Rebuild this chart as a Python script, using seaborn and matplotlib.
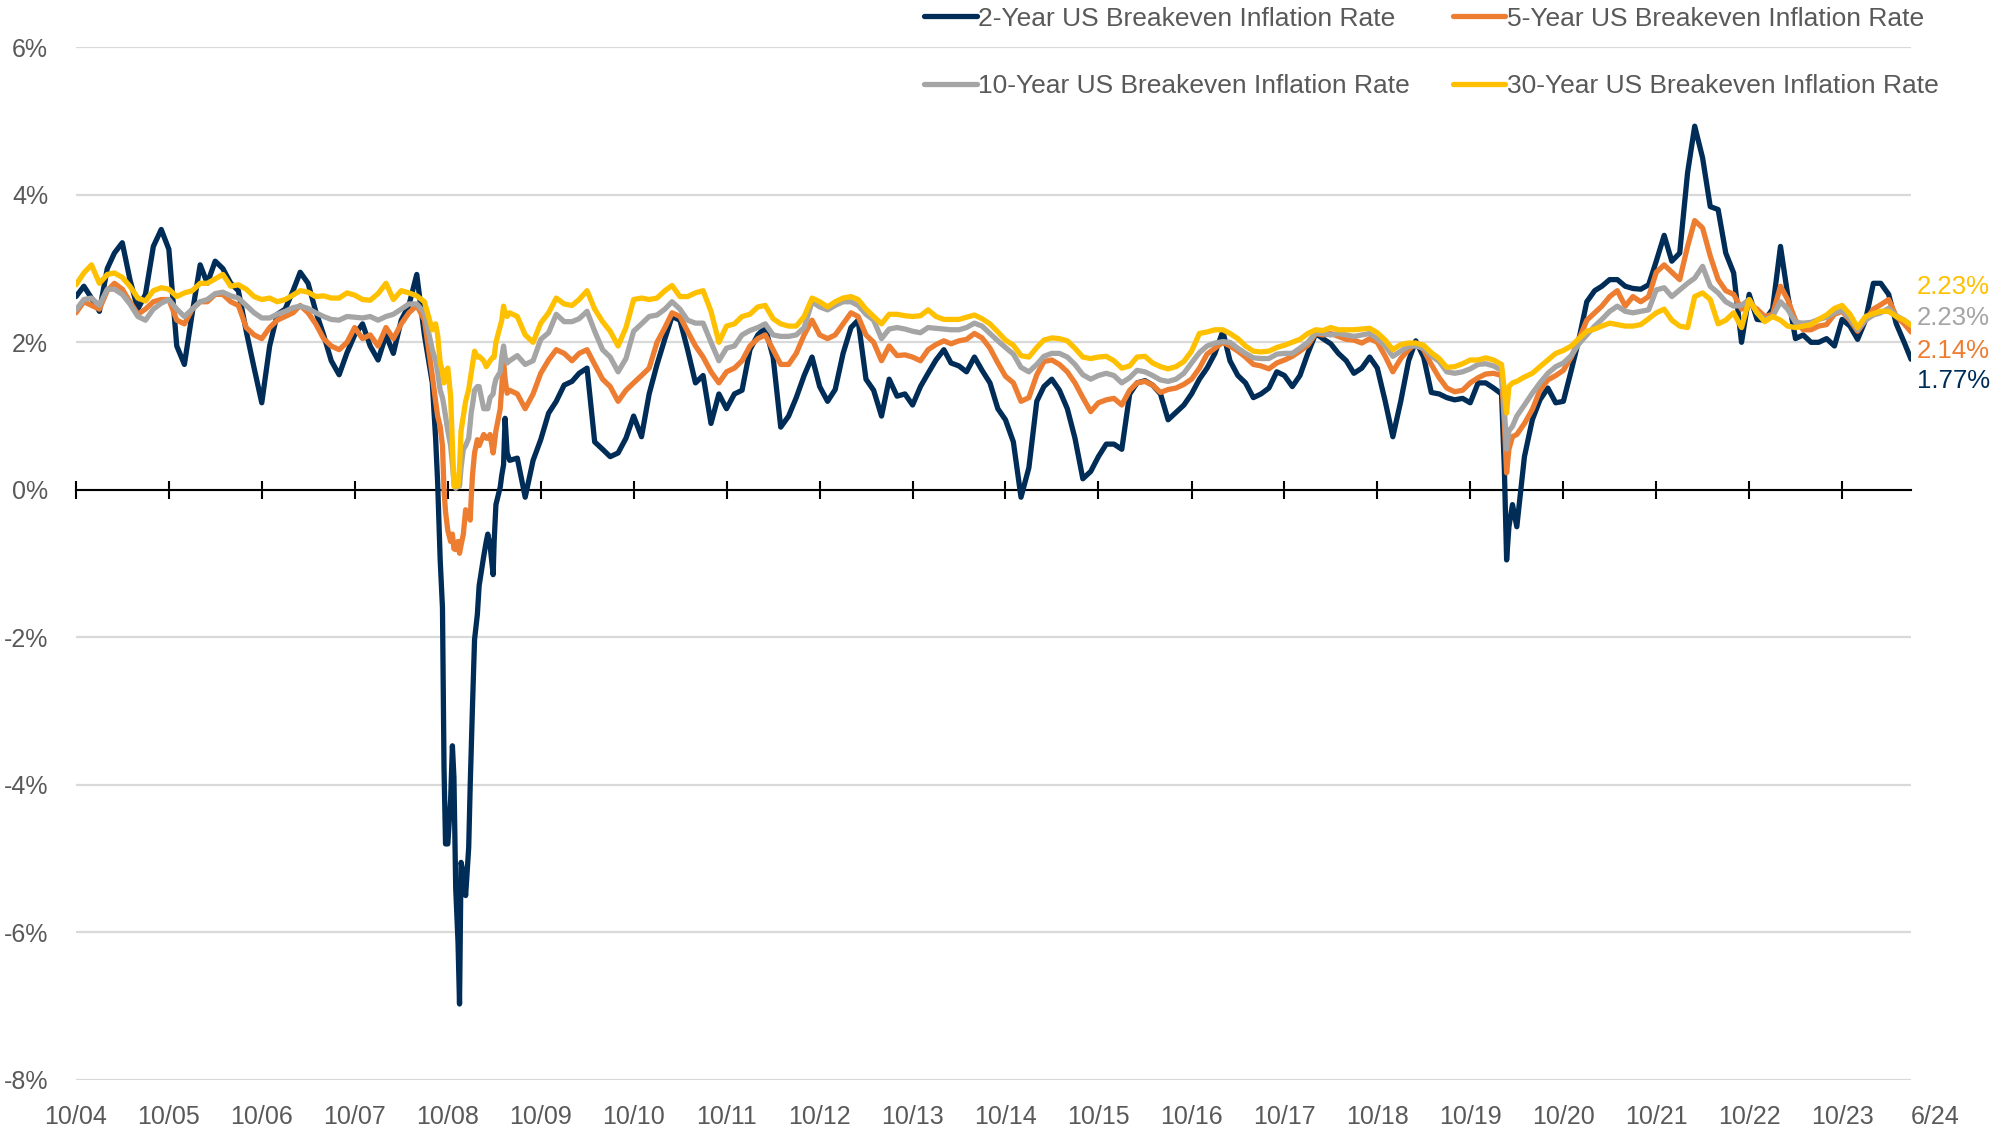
import pandas as pd
import matplotlib
matplotlib.use("Agg")
import matplotlib.pyplot as plt
import matplotlib.dates as mdates
from matplotlib.lines import Line2D
from matplotlib.ticker import FuncFormatter
from matplotlib.transforms import blended_transform_factory
from matplotlib import font_manager
import seaborn as sns

# Monthly readings (first of each month), Oct 2004 .. Jun 2024, in %
first_month = "2004-10-01"

be_2y = [2.62, 2.76, 2.60, 2.42, 3.00, 3.21, 3.35, 2.85, 2.45, 2.65, 3.30, 3.53,
         3.26, 1.95, 1.70, 2.40, 3.05, 2.80, 3.10, 3.00, 2.80, 2.70, 2.15, 1.65,
         1.18, 1.95, 2.38, 2.45, 2.70, 2.95, 2.80, 2.42, 2.10, 1.75, 1.56, 1.86,
         2.10, 2.25, 1.95, 1.76, 2.10, 1.85, 2.30, 2.50, 2.92, 2.10, 1.45, -0.95,
         -4.80, -5.40, -5.20, -3.50, -1.30, -0.70, -0.70, 0.20, 0.40, 0.43, -0.10, 0.40,
         0.68, 1.04, 1.20, 1.42, 1.47, 1.58, 1.65, 0.65, 0.55, 0.45, 0.50, 0.70,
         1.00, 0.72, 1.30, 1.70, 2.05, 2.35, 2.30, 1.90, 1.45, 1.55, 0.90, 1.30,
         1.10, 1.30, 1.35, 1.90, 2.10, 2.20, 1.80, 0.85, 1.00, 1.25, 1.55, 1.80,
         1.40, 1.20, 1.36, 1.85, 2.20, 2.30, 1.50, 1.35, 1.00, 1.50, 1.27, 1.30,
         1.15, 1.40, 1.58, 1.76, 1.90, 1.72, 1.68, 1.60, 1.80, 1.62, 1.45, 1.10,
         0.95, 0.65, -0.10, 0.30, 1.20, 1.40, 1.50, 1.35, 1.10, 0.70, 0.15, 0.25,
         0.45, 0.62, 0.62, 0.55, 1.30, 1.45, 1.48, 1.42, 1.30, 0.95, 1.05, 1.15,
         1.30, 1.50, 1.65, 1.85, 2.15, 1.75, 1.55, 1.45, 1.25, 1.30, 1.38, 1.60,
         1.55, 1.40, 1.55, 1.85, 2.12, 2.05, 1.98, 1.85, 1.75, 1.58, 1.65, 1.80,
         1.65, 1.20, 0.72, 1.20, 1.75, 2.02, 1.80, 1.32, 1.30, 1.25, 1.22, 1.24,
         1.18, 1.45, 1.45, 1.38, 1.30, -0.50, -0.50, 0.45, 0.95, 1.22, 1.38, 1.18,
         1.20, 1.62, 2.04, 2.55, 2.70, 2.76, 2.85, 2.85, 2.76, 2.73, 2.72, 2.78,
         3.10, 3.45, 3.10, 3.21, 4.30, 4.93, 4.50, 3.84, 3.80, 3.21, 2.94, 2.00,
         2.65, 2.31, 2.30, 2.45, 3.30, 2.65, 2.05, 2.10, 2.00, 2.00, 2.05, 1.95,
         2.31, 2.22, 2.04, 2.30, 2.80, 2.80, 2.65, 2.25, 2.00]

be_5y = [2.40, 2.55, 2.50, 2.45, 2.70, 2.80, 2.72, 2.55, 2.38, 2.45, 2.55, 2.58,
         2.58, 2.30, 2.25, 2.45, 2.55, 2.55, 2.65, 2.65, 2.55, 2.50, 2.20, 2.10,
         2.05, 2.20, 2.30, 2.35, 2.40, 2.50, 2.40, 2.25, 2.05, 1.95, 1.90, 2.00,
         2.20, 2.05, 2.10, 1.95, 2.20, 2.05, 2.25, 2.40, 2.50, 2.30, 1.55, 0.86,
         -0.55, -0.81, -0.60, -0.10, 0.60, 0.70, 0.60, 1.40, 1.35, 1.30, 1.10, 1.30,
         1.58, 1.76, 1.90, 1.85, 1.75, 1.85, 1.90, 1.70, 1.50, 1.40, 1.20, 1.35,
         1.45, 1.55, 1.65, 2.00, 2.20, 2.40, 2.35, 2.15, 1.95, 1.80, 1.60, 1.45,
         1.60, 1.65, 1.75, 1.95, 2.05, 2.10, 1.90, 1.70, 1.70, 1.85, 2.10, 2.30,
         2.10, 2.05, 2.10, 2.25, 2.40, 2.35, 2.10, 2.00, 1.75, 1.95, 1.82, 1.83,
         1.80, 1.75, 1.90, 1.97, 2.02, 1.98, 2.02, 2.04, 2.12, 2.06, 1.92, 1.72,
         1.54, 1.45, 1.20, 1.25, 1.56, 1.74, 1.76, 1.70, 1.60, 1.45, 1.25, 1.06,
         1.18, 1.22, 1.24, 1.15, 1.35, 1.45, 1.47, 1.42, 1.32, 1.36, 1.38, 1.43,
         1.50, 1.65, 1.84, 1.92, 2.00, 1.95, 1.88, 1.80, 1.70, 1.68, 1.64, 1.72,
         1.76, 1.81, 1.88, 1.96, 2.12, 2.10, 2.12, 2.08, 2.04, 2.03, 1.99, 2.05,
         2.00, 1.81, 1.60, 1.78, 1.90, 1.99, 1.90, 1.70, 1.52, 1.38, 1.33, 1.35,
         1.45, 1.52, 1.57, 1.58, 1.55, 0.55, 0.75, 0.90, 1.09, 1.35, 1.49, 1.55,
         1.62, 1.80, 2.04, 2.30, 2.40, 2.49, 2.62, 2.70, 2.49, 2.62, 2.55, 2.62,
         2.95, 3.05, 2.95, 2.85, 3.30, 3.65, 3.55, 3.17, 2.85, 2.70, 2.65, 2.45,
         2.52, 2.45, 2.35, 2.38, 2.76, 2.58, 2.30, 2.17, 2.17, 2.22, 2.24, 2.38,
         2.42, 2.30, 2.15, 2.30, 2.45, 2.51, 2.58, 2.35, 2.25]

be_10y = [2.44, 2.58, 2.60, 2.50, 2.72, 2.72, 2.65, 2.52, 2.35, 2.30, 2.45, 2.53,
          2.58, 2.45, 2.35, 2.45, 2.55, 2.58, 2.66, 2.68, 2.63, 2.60, 2.50, 2.40,
          2.33, 2.33, 2.38, 2.42, 2.47, 2.49, 2.46, 2.40, 2.35, 2.31, 2.30, 2.35,
          2.34, 2.33, 2.35, 2.30, 2.35, 2.38, 2.45, 2.52, 2.52, 2.40, 1.90, 1.35,
          0.80, 0.02, 0.55, 1.05, 1.40, 1.10, 1.40, 1.80, 1.75, 1.82, 1.70, 1.75,
          2.04, 2.13, 2.38, 2.28, 2.28, 2.32, 2.42, 2.15, 1.90, 1.80, 1.60, 1.78,
          2.15, 2.25, 2.35, 2.37, 2.45, 2.55, 2.45, 2.30, 2.26, 2.26, 2.00, 1.75,
          1.92, 1.95, 2.10, 2.16, 2.20, 2.25, 2.10, 2.08, 2.08, 2.10, 2.20, 2.55,
          2.48, 2.44, 2.50, 2.55, 2.55, 2.50, 2.38, 2.30, 2.05, 2.18, 2.20, 2.18,
          2.15, 2.13, 2.20, 2.19, 2.18, 2.17, 2.17, 2.20, 2.26, 2.22, 2.12, 2.02,
          1.93, 1.84, 1.66, 1.60, 1.70, 1.81, 1.85, 1.85, 1.80, 1.70, 1.56, 1.50,
          1.55, 1.58, 1.55, 1.45, 1.52, 1.62, 1.60, 1.55, 1.49, 1.47, 1.50, 1.58,
          1.72, 1.86, 1.95, 1.99, 2.01, 2.00, 1.92, 1.85, 1.79, 1.78, 1.78, 1.84,
          1.85, 1.85, 1.92, 2.00, 2.13, 2.12, 2.10, 2.12, 2.10, 2.08, 2.10, 2.12,
          2.05, 1.95, 1.81, 1.88, 1.95, 1.95, 1.92, 1.82, 1.74, 1.60, 1.58, 1.60,
          1.64, 1.70, 1.71, 1.68, 1.62, 0.80, 1.00, 1.15, 1.31, 1.45, 1.58, 1.67,
          1.72, 1.82, 1.98, 2.10, 2.22, 2.31, 2.42, 2.49, 2.42, 2.40, 2.42, 2.44,
          2.71, 2.74, 2.62, 2.71, 2.80, 2.87, 3.03, 2.76, 2.67, 2.55, 2.49, 2.50,
          2.58, 2.40, 2.31, 2.35, 2.55, 2.45, 2.27, 2.26, 2.27, 2.31, 2.34, 2.40,
          2.44, 2.32, 2.17, 2.30, 2.37, 2.40, 2.46, 2.36, 2.30]

be_30y = [2.78, 2.94, 3.05, 2.80, 2.92, 2.94, 2.88, 2.76, 2.60, 2.56, 2.70, 2.74,
          2.72, 2.62, 2.67, 2.70, 2.80, 2.80, 2.86, 2.92, 2.76, 2.78, 2.72, 2.62,
          2.58, 2.60, 2.55, 2.58, 2.64, 2.70, 2.68, 2.62, 2.63, 2.60, 2.60, 2.67,
          2.64, 2.58, 2.57, 2.66, 2.80, 2.58, 2.70, 2.67, 2.63, 2.55, 2.17, 1.72,
          1.65, 0.05, 1.00, 1.60, 1.81, 1.67, 1.80, 2.30, 2.40, 2.35, 2.10, 2.00,
          2.26, 2.40, 2.60, 2.52, 2.50, 2.58, 2.70, 2.45, 2.28, 2.15, 1.95, 2.20,
          2.58, 2.60, 2.58, 2.60, 2.70, 2.77, 2.62, 2.62, 2.67, 2.70, 2.42, 2.00,
          2.22, 2.25, 2.35, 2.38, 2.48, 2.50, 2.32, 2.25, 2.22, 2.22, 2.35, 2.60,
          2.55, 2.48, 2.55, 2.60, 2.62, 2.58, 2.45, 2.35, 2.25, 2.38, 2.38, 2.36,
          2.35, 2.36, 2.44, 2.35, 2.31, 2.31, 2.31, 2.34, 2.37, 2.32, 2.25, 2.14,
          2.03, 1.96, 1.82, 1.80, 1.93, 2.03, 2.06, 2.05, 2.02, 1.92, 1.80, 1.78,
          1.80, 1.81, 1.75, 1.65, 1.68, 1.80, 1.81, 1.72, 1.67, 1.64, 1.67, 1.74,
          1.88, 2.12, 2.14, 2.17, 2.17, 2.12, 2.05, 1.95, 1.88, 1.87, 1.88, 1.93,
          1.96, 2.00, 2.04, 2.12, 2.17, 2.16, 2.20, 2.17, 2.17, 2.17, 2.18, 2.19,
          2.13, 2.03, 1.90, 1.97, 1.99, 1.99, 1.96, 1.86, 1.78, 1.66, 1.67, 1.71,
          1.76, 1.76, 1.79, 1.76, 1.70, 1.40, 1.47, 1.53, 1.58, 1.67, 1.76, 1.85,
          1.89, 1.95, 2.05, 2.15, 2.18, 2.22, 2.26, 2.24, 2.22, 2.22, 2.24, 2.32,
          2.40, 2.45, 2.30, 2.22, 2.20, 2.62, 2.67, 2.58, 2.25, 2.30, 2.40, 2.20,
          2.58, 2.40, 2.28, 2.35, 2.30, 2.22, 2.20, 2.22, 2.24, 2.31, 2.37, 2.46,
          2.50, 2.38, 2.20, 2.35, 2.39, 2.42, 2.42, 2.35, 2.30]

# extra readings where the lines move fast (2008 crash, Covid) and the last print
extra_dates = ["2008-08-14", "2008-08-22", "2008-09-10", "2008-09-16", "2008-09-22",
               "2008-10-12", "2008-10-19", "2008-10-25", "2008-11-10", "2008-11-16",
               "2008-11-22", "2008-12-10", "2008-12-22", "2008-12-28", "2009-01-06",
               "2009-01-14", "2009-01-25", "2009-02-19", "2009-03-07", "2009-03-16",
               "2009-03-28", "2009-04-08", "2009-04-25", "2009-05-08", "2009-05-14",
               "2009-05-22", "2020-02-12", "2020-02-21", "2020-03-15", "2024-06-28"]
extra_2y = [0.70, 0.10, -1.60, -3.76, -4.80, -4.20, -3.47, -3.90, -6.13, -6.97,
            -5.05, -5.50, -4.85, -4.00, -2.92, -2.03, -1.69, -0.90, -0.60, -0.75,
            -1.15, -0.20, 0.04, 0.34, 0.97, 0.50, 0.30, -0.95, -0.20, 1.77]
extra_5y = [1.20, 1.00, 0.60, 0.00, -0.30, -0.70, -0.60, -0.80, -0.70, -0.86,
            -0.75, -0.27, -0.35, -0.41, 0.20, 0.50, 0.68, 0.75, 0.70, 0.75,
            0.50, 0.80, 1.10, 1.76, 1.50, 1.31, 0.90, 0.23, 0.72, 2.14]
extra_10y = [1.75, 1.60, 1.25, 1.13, 1.00, 0.60, 0.35, 0.10, 0.05, 0.05,
             0.30, 0.60, 0.70, 0.90, 1.15, 1.35, 1.40, 1.10, 1.10, 1.25,
             1.30, 1.50, 1.60, 1.95, 1.80, 1.72, 1.10, 0.55, 0.86, 2.23]
extra_30y = [2.25, 2.10, 1.60, 1.45, 1.60, 1.27, 0.60, 0.05, 0.05, 0.30,
             0.80, 1.20, 1.36, 1.50, 1.70, 1.88, 1.80, 1.75, 1.70, 1.75,
             1.80, 2.00, 2.22, 2.49, 2.40, 2.35, 1.35, 1.04, 1.45, 2.23]

series_names = ["2-Year US Breakeven Inflation Rate", "5-Year US Breakeven Inflation Rate",
                "10-Year US Breakeven Inflation Rate", "30-Year US Breakeven Inflation Rate"]
colors = ["#002D57", "#ED7D31", "#A5A5A5", "#FFC000"]
end_labels = ["1.77%", "2.14%", "2.23%", "2.23%"]
end_label_y = [1.47, 1.88, 2.33, 2.75]
y_ticks = [-8, -6, -4, -2, 0, 2, 4, 6]

# build long table
monthly_dates = pd.date_range(first_month, periods=len(be_2y), freq="MS")
frames = []
for name, monthly, extra in zip(series_names, [be_2y, be_5y, be_10y, be_30y],
                                [extra_2y, extra_5y, extra_10y, extra_30y]):
    dates = list(monthly_dates) + list(pd.to_datetime(extra_dates))
    frames.append(pd.DataFrame({"date": dates, "value": monthly + extra, "series": name}))
df = pd.concat(frames, ignore_index=True).sort_values(["series", "date"])

sns.set_style("white")
installed = {f.name for f in font_manager.fontManager.ttflist}
if "Liberation Sans Narrow" in installed:
    plt.rcParams["font.family"] = ["Liberation Sans Narrow", "DejaVu Sans"]
    fs, fs_leg, fs_end = 21.6, 22.8, 22.4
else:
    plt.rcParams["font.family"] = ["Liberation Sans", "DejaVu Sans"]
    fs, fs_leg, fs_end = 18, 19, 18.6
text_color = "#595959"

fig = plt.figure(figsize=(19.94, 11.33), dpi=100)
ax = fig.add_axes([0.0381, 0.0468, 0.9203, 0.9115])

sns.lineplot(data=df, x="date", y="value", hue="series", hue_order=series_names,
             palette=colors, linewidth=3.8, estimator=None, sort=True,
             legend=False, ax=ax)

ax.set_ylim(-8, 6)
ax.set_xlim(pd.Timestamp("2004-10-01"), pd.Timestamp("2024-06-28"))
ax.set_xlabel("")
ax.set_ylabel("")

# y axis: light gridlines, % labels
ax.set_yticks(y_ticks)
ax.yaxis.set_major_formatter(FuncFormatter(lambda v, p: f"{v:.0f}%"))
ax.tick_params(axis="y", left=False, length=0, pad=20, labelsize=fs, labelcolor=text_color)
ax.yaxis.grid(True, color="#D9D9D9", linewidth=1.6)
ax.xaxis.grid(False)
ax.set_axisbelow(True)

for side in ["left", "right", "top"]:
    ax.spines[side].set_visible(False)
ax.spines["bottom"].set_position(("data", 0))
ax.spines["bottom"].set_color("black")
ax.spines["bottom"].set_linewidth(1.5)
ax.spines["bottom"].set_zorder(1.9)

# yearly ticks crossing the zero line, labels at the bottom
year_ticks = pd.date_range("2004-10-01", "2023-10-01", freq="12MS")
ax.set_xticks(year_ticks)
ax.tick_params(axis="x", bottom=True, direction="inout", length=13, width=1.5,
               color="black", labelbottom=False)
trans = blended_transform_factory(ax.transData, ax.transAxes)
for d in year_ticks:
    ax.text(mdates.date2num(d), -0.024, d.strftime("%m/%y"), transform=trans,
            ha="center", va="top", fontsize=fs, color=text_color)
ax.text(mdates.date2num(pd.Timestamp("2024-10-01")), -0.024, "6/24", transform=trans,
        ha="center", va="top", fontsize=fs, color=text_color, clip_on=False)

# last values on the right
trans_end = blended_transform_factory(ax.transAxes, ax.transData)
for lab, yv, c in zip(end_labels, end_label_y, colors):
    ax.text(1.003, yv, lab, transform=trans_end, ha="left", va="center",
            fontsize=fs_end, color=c, clip_on=False)

# legend, two rows of two
order = [0, 2, 1, 3]
handles = [Line2D([], [], color=colors[i], linewidth=3.8) for i in order]
labels = [series_names[i] for i in order]
fig.legend(handles, labels, ncol=2, loc="upper left",
           bbox_to_anchor=(924 / 1994, 1 - 6.5 / 1133), frameon=False,
           fontsize=fs_leg, labelcolor=text_color, handlelength=2.0,
           handletextpad=0.05, columnspacing=1.62, labelspacing=1.65,
           borderpad=0, borderaxespad=0)

fig.savefig("out.png", dpi=100)
